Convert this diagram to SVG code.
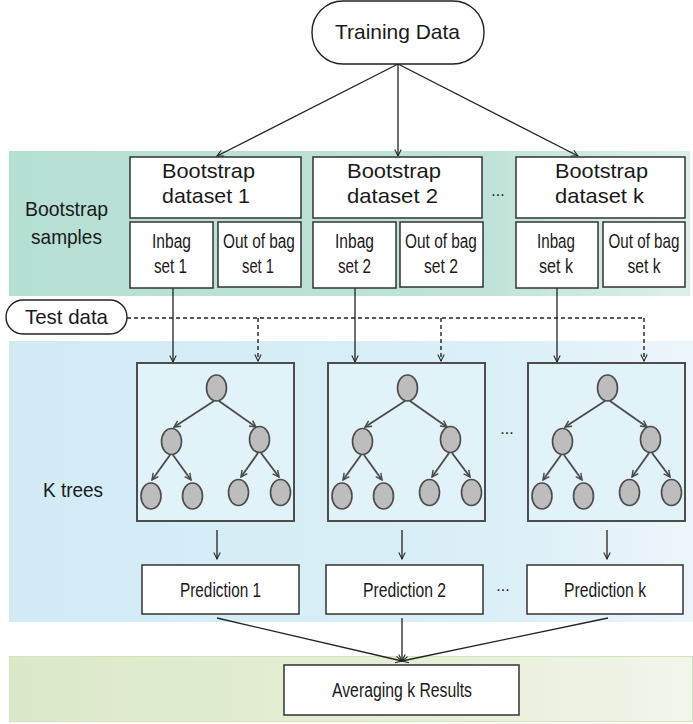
<svg xmlns="http://www.w3.org/2000/svg" xmlns:xlink="http://www.w3.org/1999/xlink" width="693" height="724" viewBox="0 0 693 724">
<style>
text{font-family:"Liberation Sans",Arial,sans-serif;fill:#1a1a1a}
.big{font-size:21px}
.mid{font-size:20px}
.box{fill:#fff;stroke:#333;stroke-width:1.5}
.pill{fill:#fff;stroke:#222;stroke-width:1.4}
.tbox{fill:#e1f2f9;stroke:#4d4d4d;stroke-width:2}
.leaf{fill:#bdbdbd;stroke:#4a4a4a;stroke-width:1.6}
.tarr{stroke:#4a4a4a;stroke-width:1.8;fill:none;marker-end:url(#ah2)}
.conn{stroke:#222;stroke-width:1.3;fill:none;marker-end:url(#ah)}
.dash{stroke:#222;stroke-width:1.4;fill:none;stroke-dasharray:4 3}
.dots{font-size:16px;text-anchor:middle}
.c{text-anchor:middle}
</style>
<defs>
<linearGradient id="gTeal" x1="0" x2="1" y1="0" y2="0"><stop offset="0" stop-color="#b6dfd3"/><stop offset="0.7" stop-color="#bfe3d8"/><stop offset="1" stop-color="#dcf0ea"/></linearGradient>
<linearGradient id="gBlue" x1="0" x2="1" y1="0" y2="0"><stop offset="0" stop-color="#d2ebf5"/><stop offset="0.7" stop-color="#daeff7"/><stop offset="1" stop-color="#ecf6fa"/></linearGradient>
<linearGradient id="gGreen" x1="0" x2="1" y1="0" y2="0"><stop offset="0" stop-color="#dce9c8"/><stop offset="0.6" stop-color="#e5efd6"/><stop offset="1" stop-color="#f1f6ea"/></linearGradient>
<marker id="ah" viewBox="0 0 10 10" refX="9" refY="5" markerWidth="8" markerHeight="8" markerUnits="userSpaceOnUse" orient="auto"><path d="M1,1 L9,5 L1,9" fill="none" stroke="#222" stroke-width="1.3"/></marker>
<marker id="ah2" viewBox="0 0 10 10" refX="9" refY="5" markerWidth="8" markerHeight="8" markerUnits="userSpaceOnUse" orient="auto"><path d="M1,1 L9,5 L1,9" fill="none" stroke="#4a4a4a" stroke-width="1.8"/></marker>
<g id="treeShape">
<rect class="tbox" x="0" y="0" width="157" height="158"/>
<path class="tarr" d="M77,38 L37,64"/>
<path class="tarr" d="M82,38 L119,64"/>
<path class="tarr" d="M33,92 L15,117"/>
<path class="tarr" d="M36,92 L54,117"/>
<path class="tarr" d="M121,90 L104,114"/>
<path class="tarr" d="M124,90 L142,114"/>
<ellipse class="leaf" cx="79.5" cy="25" rx="10" ry="13"/>
<ellipse class="leaf" cx="34.5" cy="78.5" rx="10" ry="13"/>
<ellipse class="leaf" cx="122.5" cy="76.5" rx="10" ry="13"/>
<ellipse class="leaf" cx="14" cy="133" rx="10" ry="13"/>
<ellipse class="leaf" cx="55.5" cy="133" rx="10" ry="13"/>
<ellipse class="leaf" cx="101.5" cy="129.5" rx="10" ry="13"/>
<ellipse class="leaf" cx="143.5" cy="129.5" rx="10" ry="13"/>
</g>
</defs>

<g id="bands">
<rect x="9" y="151" width="681" height="145" fill="url(#gTeal)"/>
<rect x="9" y="341" width="684" height="281" fill="url(#gBlue)"/>
<rect x="9.5" y="656.5" width="683" height="65" fill="url(#gGreen)" stroke="#d3e5bd" stroke-width="1"/>
</g>

<g id="label-bootstrap-samples">
<text class="big" x="25" y="216" textLength="83" lengthAdjust="spacingAndGlyphs">Bootstrap</text>
<text class="big" x="31" y="244" textLength="71" lengthAdjust="spacingAndGlyphs">samples</text>
</g>
<g id="label-k-trees"><text class="big" x="43" y="497" textLength="60" lengthAdjust="spacingAndGlyphs">K trees</text></g>

<g id="connectors">
<path class="conn" d="M398,64 L217,156"/>
<path class="conn" d="M398,64 L398,156"/>
<path class="conn" d="M398,64 L578,156"/>
<path class="conn" d="M173,288 L173,362"/>
<path class="conn" d="M355,288 L355,362"/>
<path class="conn" d="M557,288 L557,362"/>
<path class="dash" d="M127,318 L644,318"/>
<path class="dash" d="M258,318 L258,361" marker-end="url(#ah)"/>
<path class="dash" d="M441,318 L441,361" marker-end="url(#ah)"/>
<path class="dash" d="M644,318 L644,361" marker-end="url(#ah)"/>
<path class="conn" d="M217,530 L217,559"/>
<path class="conn" d="M402,530 L402,559"/>
<path class="conn" d="M607,530 L607,559"/>
<path class="conn" d="M217,618 L402,661"/>
<path class="conn" d="M402,618 L402,661"/>
<path class="conn" d="M608,618 L402,661"/>
</g>

<g id="training-data">
<rect class="pill" x="312" y="1" width="172" height="63" rx="31" ry="31"/>
<text class="big" x="335" y="39" textLength="125" lengthAdjust="spacingAndGlyphs">Training Data</text>
</g>

<g id="bootstrap-1">
<rect class="box" x="130" y="157" width="171" height="61"/>
<text class="big" x="162" y="178" textLength="93" lengthAdjust="spacingAndGlyphs">Bootstrap</text>
<text class="big" x="162" y="203" textLength="88" lengthAdjust="spacingAndGlyphs">dataset 1</text>
</g>
<g id="inbag-1">
<rect class="box" x="130" y="222" width="83" height="66"/>
<text class="mid" x="152" y="248" textLength="39" lengthAdjust="spacingAndGlyphs">Inbag</text>
<text class="mid" x="154" y="273" textLength="33" lengthAdjust="spacingAndGlyphs">set 1</text>
</g>
<g id="oob-1">
<rect class="box" x="218" y="222" width="83" height="65"/>
<text class="mid c" transform="translate(259,248) scale(0.77,1)">Out of bag</text>
<text class="mid" x="242" y="273" textLength="32" lengthAdjust="spacingAndGlyphs">set 1</text>
</g>

<g id="bootstrap-2">
<rect class="box" x="313" y="157" width="169" height="61"/>
<text class="big" x="347" y="178" textLength="94" lengthAdjust="spacingAndGlyphs">Bootstrap</text>
<text class="big" x="347" y="203" textLength="91" lengthAdjust="spacingAndGlyphs">dataset 2</text>
</g>
<g id="inbag-2">
<rect class="box" x="313" y="222" width="83" height="66"/>
<text class="mid" x="335" y="248" textLength="39" lengthAdjust="spacingAndGlyphs">Inbag</text>
<text class="mid" x="338" y="273" textLength="33" lengthAdjust="spacingAndGlyphs">set 2</text>
</g>
<g id="oob-2">
<rect class="box" x="400" y="222" width="83" height="65"/>
<text class="mid c" transform="translate(441,248) scale(0.77,1)">Out of bag</text>
<text class="mid" x="424" y="273" textLength="34" lengthAdjust="spacingAndGlyphs">set 2</text>
</g>

<g id="dots-bootstrap"><text class="dots" x="498" y="196">...</text></g>

<g id="bootstrap-k">
<rect class="box" x="516" y="157" width="169" height="61"/>
<text class="big" x="555" y="178" textLength="93" lengthAdjust="spacingAndGlyphs">Bootstrap</text>
<text class="big" x="555" y="203" textLength="89" lengthAdjust="spacingAndGlyphs">dataset k</text>
</g>
<g id="inbag-k">
<rect class="box" x="516" y="222" width="82" height="66"/>
<text class="mid" x="537" y="248" textLength="38" lengthAdjust="spacingAndGlyphs">Inbag</text>
<text class="mid" x="539" y="273" textLength="34" lengthAdjust="spacingAndGlyphs">set k</text>
</g>
<g id="oob-k">
<rect class="box" x="603" y="222" width="82" height="65"/>
<text class="mid c" transform="translate(644,248) scale(0.76,1)">Out of bag</text>
<text class="mid c" x="644" y="273" textLength="33" lengthAdjust="spacingAndGlyphs">set k</text>
</g>

<g id="test-data">
<rect class="pill" x="6" y="300" width="121" height="34" rx="17" ry="17"/>
<text class="big" x="25" y="324" textLength="83" lengthAdjust="spacingAndGlyphs">Test data</text>
</g>

<g id="tree-1"><use xlink:href="#treeShape" href="#treeShape" transform="translate(137,363)"/></g>
<g id="tree-2"><use xlink:href="#treeShape" href="#treeShape" transform="translate(328,363)"/></g>
<g id="dots-trees"><text class="dots" x="507" y="434">...</text></g>
<g id="tree-k"><use xlink:href="#treeShape" href="#treeShape" transform="translate(528,363)"/></g>

<g id="prediction-1">
<rect class="box" x="142" y="565" width="157" height="49"/>
<text class="mid" x="180" y="597" textLength="81" lengthAdjust="spacingAndGlyphs">Prediction 1</text>
</g>
<g id="prediction-2">
<rect class="box" x="326" y="565" width="157" height="49"/>
<text class="mid" x="363" y="597" textLength="83" lengthAdjust="spacingAndGlyphs">Prediction 2</text>
</g>
<g id="dots-predictions"><text class="dots" x="503" y="591">...</text></g>
<g id="prediction-k">
<rect class="box" x="527" y="565" width="156" height="49"/>
<text class="mid" x="564" y="597" textLength="82" lengthAdjust="spacingAndGlyphs">Prediction k</text>
</g>

<g id="averaging">
<rect class="box" x="284" y="665" width="235" height="50"/>
<text class="mid" x="332" y="697" textLength="140" lengthAdjust="spacingAndGlyphs">Averaging k Results</text>
</g>
</svg>
